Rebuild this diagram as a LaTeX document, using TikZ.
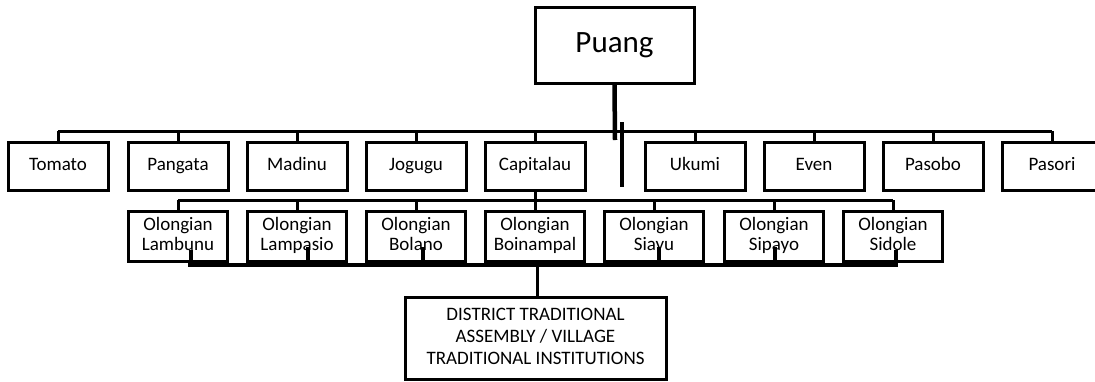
\documentclass[tikz,border=0pt]{standalone}
\usepackage{fontspec}
\setmainfont{Carlito}
\begin{document}
\begin{tikzpicture}[x=1pt,y=-1pt,
  box/.style={draw=black,line width=3pt,fill=white,inner sep=0pt,align=center,font=\fontsize{19}{20}\selectfont},
  topbox/.style={box,minimum width=100pt,minimum height=48pt,text height=13pt,text depth=4.5pt},
  olbox/.style={box,minimum width=99pt,minimum height=50pt},
  conn/.style={draw=black,line width=3pt},
  thickconn/.style={draw=black,line width=4.5pt}]
\useasboundingbox (0,0) rectangle (1095,381);
\clip (0,0) rectangle (1095,381);
\newcommand{\mystrut}{\rule[-4.5pt]{0pt}{17.5pt}}
% Puang
\node[box,minimum width=159pt,minimum height=76pt,font=\fontsize{31}{36}\selectfont,text height=21pt,text depth=7pt] (puang) at (614.5,45) {Puang};
% row 1
\foreach \n/\x/\t in {tomato/58/Tomato,pangata/178/Pangata,madinu/297/Madinu,jogugu/416/Jogugu,capitalau/535/Capitalau,ukumi/695/Ukumi,even/814/Even,pasobo/933/Pasobo,pasori/1052/Pasori}
  \node[topbox] (\n) at (\x,166) {\t};
% row 2
\foreach \n/\x/\t in {lambunu/178/Lambunu,lampasio/297/Lampasio,bolano/416/Bolano,boinampal/535/Boinampal,siayu/654/Siayu,sipayo/774/Sipayo,sidole/893/Sidole}
  \node[olbox] (\n) at (\x,236.5) {\rule[-2pt]{0pt}{13pt}Olongian\\\rule[-4.5pt]{0pt}{13pt}\t};
% district
\node[box,minimum width=261pt,minimum height=82pt,font=\fontsize{19}{22}\selectfont] (district) at (535.5,338) {\rule{0pt}{13pt}DISTRICT TRADITIONAL\\ASSEMBLY / VILLAGE\\\rule[-4.5pt]{0pt}{13pt}TRADITIONAL INSTITUTIONS};
% coordinates
\coordinate (barL) at (58,131);
\coordinate (barR) at (1052,131);
\coordinate (pEnd) at (615,140);
\coordinate (xA) at (622,122);
\coordinate (xB) at (622,187);
\coordinate (r2L) at (178,200);
\coordinate (r2R) at (893,200);
\coordinate (bL) at (188,265);
\coordinate (bR) at (898,265);
% top connectors
\draw[thickconn] (puang.south) -- (pEnd);
\draw[conn] (barL) -- (barR);
\foreach \n in {tomato,pangata,madinu,jogugu,capitalau,ukumi,even,pasobo,pasori}
  \draw[conn] (\n.north |- barL) -- (\n.north);
\draw[thickconn] (xA) -- (xB);
% row 2 connectors
\draw[conn] (capitalau.south) -- (capitalau.south |- r2L);
\draw[conn] (r2L) -- (r2R);
\foreach \n in {lambunu,lampasio,bolano,boinampal,siayu,sipayo,sidole}
  \draw[conn] (\n.north |- r2L) -- (\n.north);
% bottom bar
\draw[thickconn] (bL) -- (bR);
\foreach \n/\dx/\y in {lambunu/13/250,lampasio/11/247,bolano/7/247,siayu/5/247,sipayo/1/247,sidole/3/250}
  \draw[thickconn] ([xshift=\dx pt]\n.center |- bL) -- ([xshift=\dx pt]\n.center |- 0,\y);
\draw[conn] ([xshift=2pt]boinampal.center |- bL) -- ([xshift=2pt]district.north -| boinampal.center);
\end{tikzpicture}
\end{document}
